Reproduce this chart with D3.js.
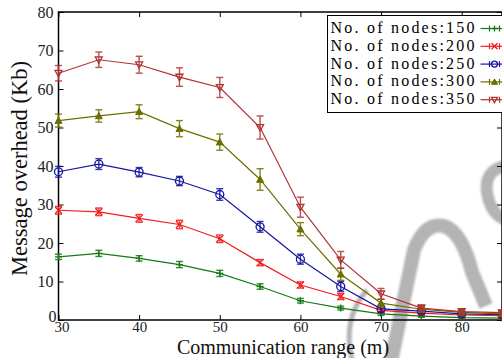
<!DOCTYPE html>
<html>
<head>
<meta charset="utf-8">
<script src="https://cdn.jsdelivr.net/npm/d3@7"></script>
<style>
  body { margin: 0; background: #fff; overflow: hidden; }
  svg { display: block; }
  svg text { font-family: "Liberation Serif", "Times New Roman", "DejaVu Serif", serif; }
</style>
</head>
<body>
<div id="chart"></div>
<script>
// communication range (m)
const ranges = [30, 35, 40, 45, 50, 55, 60, 65, 70, 75, 80, 85];

const nodes150 = [16.4, 17.3, 16.0, 14.4, 12.1, 8.7, 5.0, 3.1, 1.6, 1.0, 0.6, 0.5];
const nodes200 = [28.5, 28.1, 26.4, 24.8, 21.1, 14.9, 9.1, 6.1, 2.5, 1.8, 1.3, 1.1];
const nodes250 = [38.5, 40.5, 38.4, 36.1, 32.6, 24.2, 15.8, 8.7, 2.9, 2.3, 1.6, 1.4];
const nodes300 = [51.8, 53.0, 54.1, 49.7, 46.2, 36.5, 23.6, 11.9, 4.4, 2.8, 2.0, 1.6];
const nodes350 = [64.1, 67.6, 66.3, 63.1, 60.4, 50.0, 29.3, 15.6, 6.8, 3.1, 2.2, 1.9];

const err150 = [0.7, 0.8, 0.7, 0.8, 0.8, 0.7, 0.6, 0.5, 0.4, 0.3, 0.3, 0.3];
const err200 = [1.0, 1.0, 1.0, 1.1, 1.0, 0.8, 0.8, 0.8, 0.6, 0.4, 0.4, 0.4];
const err250 = [1.4, 1.4, 1.2, 1.2, 1.5, 1.4, 1.3, 1.3, 0.8, 0.6, 0.5, 0.5];
const err300 = [1.7, 1.6, 1.8, 2.1, 2.1, 2.8, 1.7, 1.6, 1.0, 0.7, 0.6, 0.6];
const err350 = [2.0, 2.0, 2.2, 2.4, 2.6, 3.0, 2.6, 2.2, 1.4, 0.8, 0.7, 0.6];

const seriesNames = ['No. of nodes:150', 'No. of nodes:200', 'No. of nodes:250', 'No. of nodes:300', 'No. of nodes:350'];
const seriesValues = [nodes150, nodes200, nodes250, nodes300, nodes350];
const seriesErrors = [err150, err200, err250, err300, err350];
const seriesColors = ['#157a15', '#f21c1c', '#1616a0', '#6e6e00', '#b03232'];
const seriesMarkers = ['plus', 'x', 'circle', 'triangleUp', 'triangleDown'];

const xTicks = [30, 40, 50, 60, 70, 80];
const yTicks = [0, 10, 20, 30, 40, 50, 60, 70, 80];

const SERIF = '"Liberation Serif", "Times New Roman", "DejaVu Serif", serif';

const W = 502, H = 358;
const margin = { top: 12, right: 0, bottom: 38, left: 58.5 };
const width = W - margin.left - margin.right;
const height = H - margin.top - margin.bottom;

const svg = d3.select('#chart').append('svg')
  .attr('width', W)
  .attr('height', H)
  .attr('font-family', SERIF);

// faint watermark strokes in the background
svg.append('defs').append('filter').attr('id', 'soft')
  .append('feGaussianBlur').attr('stdDeviation', 1.2);
const wm = svg.append('g')
  .attr('fill', 'none')
  .attr('stroke', '#b4b4b4')
  .attr('filter', 'url(#soft)');
wm.append('path').attr('stroke-width', 5)
  .attr('d', 'M 367 290 Q 342 318 352 360');
wm.append('path').attr('stroke-width', 14)
  .attr('d', 'M 391 362 L 414 250 Q 425 222 444 226 Q 462 232 472 272 L 486 306');
wm.append('path').attr('stroke-width', 12)
  .attr('d', 'M 506 166 Q 484 170 487 192 Q 490 214 506 220');

const chart = svg.append('g')
  .attr('transform', `translate(${margin.left},${margin.top})`);

const x = d3.scaleLinear().domain([30, 85]).range([0, width]);
const y = d3.scaleLinear().domain([0, 80]).range([height, 0]);

// frame
chart.append('rect')
  .attr('x', 0).attr('y', 0)
  .attr('width', width).attr('height', height)
  .attr('fill', 'none')
  .attr('stroke', '#000')
  .attr('stroke-width', 1.5);

// inward ticks on all four sides
const xAxis = d3.axisBottom(x).tickValues(xTicks).tickSize(-5).tickSizeOuter(0).tickPadding(1);
const yAxis = d3.axisLeft(y).tickValues(yTicks).tickSize(-5).tickSizeOuter(0).tickPadding(5);

const gx = chart.append('g')
  .attr('transform', `translate(0,${height})`)
  .call(xAxis);
const gy = chart.append('g').call(yAxis);

chart.append('g').call(d3.axisTop(x).tickValues(xTicks).tickSize(-5).tickFormat(''));
chart.append('g').attr('transform', `translate(${width},0)`)
  .call(d3.axisRight(y).tickValues(yTicks).tickSize(-5).tickFormat(''));

chart.selectAll('.domain').remove();
chart.selectAll('g').attr('font-family', SERIF);
chart.selectAll('.tick line').attr('stroke', '#000').attr('stroke-width', 1);

gx.selectAll('text')
  .attr('font-size', 15).attr('fill', '#222')
  .attr('font-family', SERIF);
gx.selectAll('.tick').filter(d => d === 30).select('text').attr('dx', 3);
gy.selectAll('text')
  .attr('font-size', 16).attr('fill', '#222')
  .attr('font-family', SERIF);
gy.selectAll('.tick').filter(d => d === 0).select('text').attr('dx', 3).attr('dy', '0.1em');

// axis labels
svg.append('text')
  .attr('x', 283)
  .attr('y', 353.5)
  .attr('text-anchor', 'middle')
  .attr('font-size', 20)
  .attr('font-family', SERIF)
  .attr('fill', '#111')
  .text('Communication range (m)');

svg.append('text')
  .attr('transform', 'translate(27,168.5) rotate(-90)')
  .attr('text-anchor', 'middle')
  .attr('font-size', 22.5)
  .attr('font-family', SERIF)
  .attr('fill', '#111')
  .text('Message overhead (Kb)');

function drawMarker(g, type, color, size) {
  const s = size;
  if (type === 'plus') {
    g.append('path').attr('d', `M${-s},0H${s}M0,${-s}V${s}`)
      .attr('stroke', color).attr('stroke-width', 1.3).attr('fill', 'none');
  } else if (type === 'x') {
    g.append('path').attr('d', `M${-s},${-s}L${s},${s}M${-s},${s}L${s},${-s}`)
      .attr('stroke', color).attr('stroke-width', 1.3).attr('fill', 'none');
  } else if (type === 'circle') {
    g.append('circle').attr('r', s)
      .attr('stroke', color).attr('stroke-width', 1.3).attr('fill', 'none');
  } else if (type === 'triangleUp') {
    g.append('path').attr('d', `M0,${-s}L${s},${s * 0.8}L${-s},${s * 0.8}Z`)
      .attr('stroke', color).attr('fill', color);
  } else {
    g.append('path').attr('d', `M0,${s}L${s},${-s * 0.8}L${-s},${-s * 0.8}Z`)
      .attr('stroke', color).attr('stroke-width', 1.3).attr('fill', 'none');
  }
}

const plot = chart.append('g');
const line = d3.line().x(d => x(d[0])).y(d => y(d[1]));

seriesValues.forEach((vals, i) => {
  const color = seriesColors[i];
  const pts = ranges.map((r, j) => [r, vals[j], seriesErrors[i][j]]);
  const g = plot.append('g');

  g.append('path')
    .datum(pts)
    .attr('d', line)
    .attr('fill', 'none')
    .attr('stroke', color)
    .attr('stroke-width', 1.2);

  // error bars
  const eb = g.selectAll('.eb').data(pts).enter().append('g')
    .attr('stroke', color)
    .attr('stroke-width', 1.4)
    .attr('opacity', 0.85);
  eb.append('line')
    .attr('x1', d => x(d[0])).attr('x2', d => x(d[0]))
    .attr('y1', d => y(d[1] - d[2])).attr('y2', d => y(d[1] + d[2]));
  eb.append('line')
    .attr('x1', d => x(d[0]) - 3.5).attr('x2', d => x(d[0]) + 3.5)
    .attr('y1', d => y(d[1] + d[2])).attr('y2', d => y(d[1] + d[2]));
  eb.append('line')
    .attr('x1', d => x(d[0]) - 3.5).attr('x2', d => x(d[0]) + 3.5)
    .attr('y1', d => y(d[1] - d[2])).attr('y2', d => y(d[1] - d[2]));

  pts.forEach(d => {
    const m = g.append('g').attr('transform', `translate(${x(d[0])},${y(d[1])})`);
    drawMarker(m, seriesMarkers[i], color, seriesMarkers[i] === 'circle' ? 4 : 3.5);
  });
});

// legend (rows are tight, so the text is kept just under the row pitch)
const legend = svg.append('g').attr('transform', 'translate(327.5,15.5)');
legend.append('rect')
  .attr('x', 0).attr('y', 0)
  .attr('width', 180).attr('height', 97)
  .attr('fill', '#fff')
  .attr('stroke', '#000')
  .attr('stroke-width', 1);

seriesNames.forEach((name, i) => {
  const row = legend.append('g').attr('transform', `translate(0,${17.5 + i * 17.8})`);
  row.append('text')
    .attr('x', 3).attr('y', 0)
    .attr('font-size', 16)
    .attr('textLength', 144)
    .attr('lengthAdjust', 'spacing')
    .attr('font-family', SERIF)
    .attr('fill', '#000')
    .text(name);
  const color = seriesColors[i];
  const cy = -4.5;
  row.append('line')
    .attr('x1', 153).attr('x2', 176)
    .attr('y1', cy).attr('y2', cy)
    .attr('stroke', color).attr('stroke-width', 1.2);
  row.append('line')
    .attr('x1', 162).attr('x2', 162)
    .attr('y1', cy - 3).attr('y2', cy + 3)
    .attr('stroke', color).attr('stroke-width', 1.2);
  row.append('line')
    .attr('x1', 172).attr('x2', 172)
    .attr('y1', cy - 3).attr('y2', cy + 3)
    .attr('stroke', color).attr('stroke-width', 1.2);
  const m = row.append('g').attr('transform', `translate(167,${cy})`);
  drawMarker(m, seriesMarkers[i], color, 3);
});
</script>
</body>
</html>
